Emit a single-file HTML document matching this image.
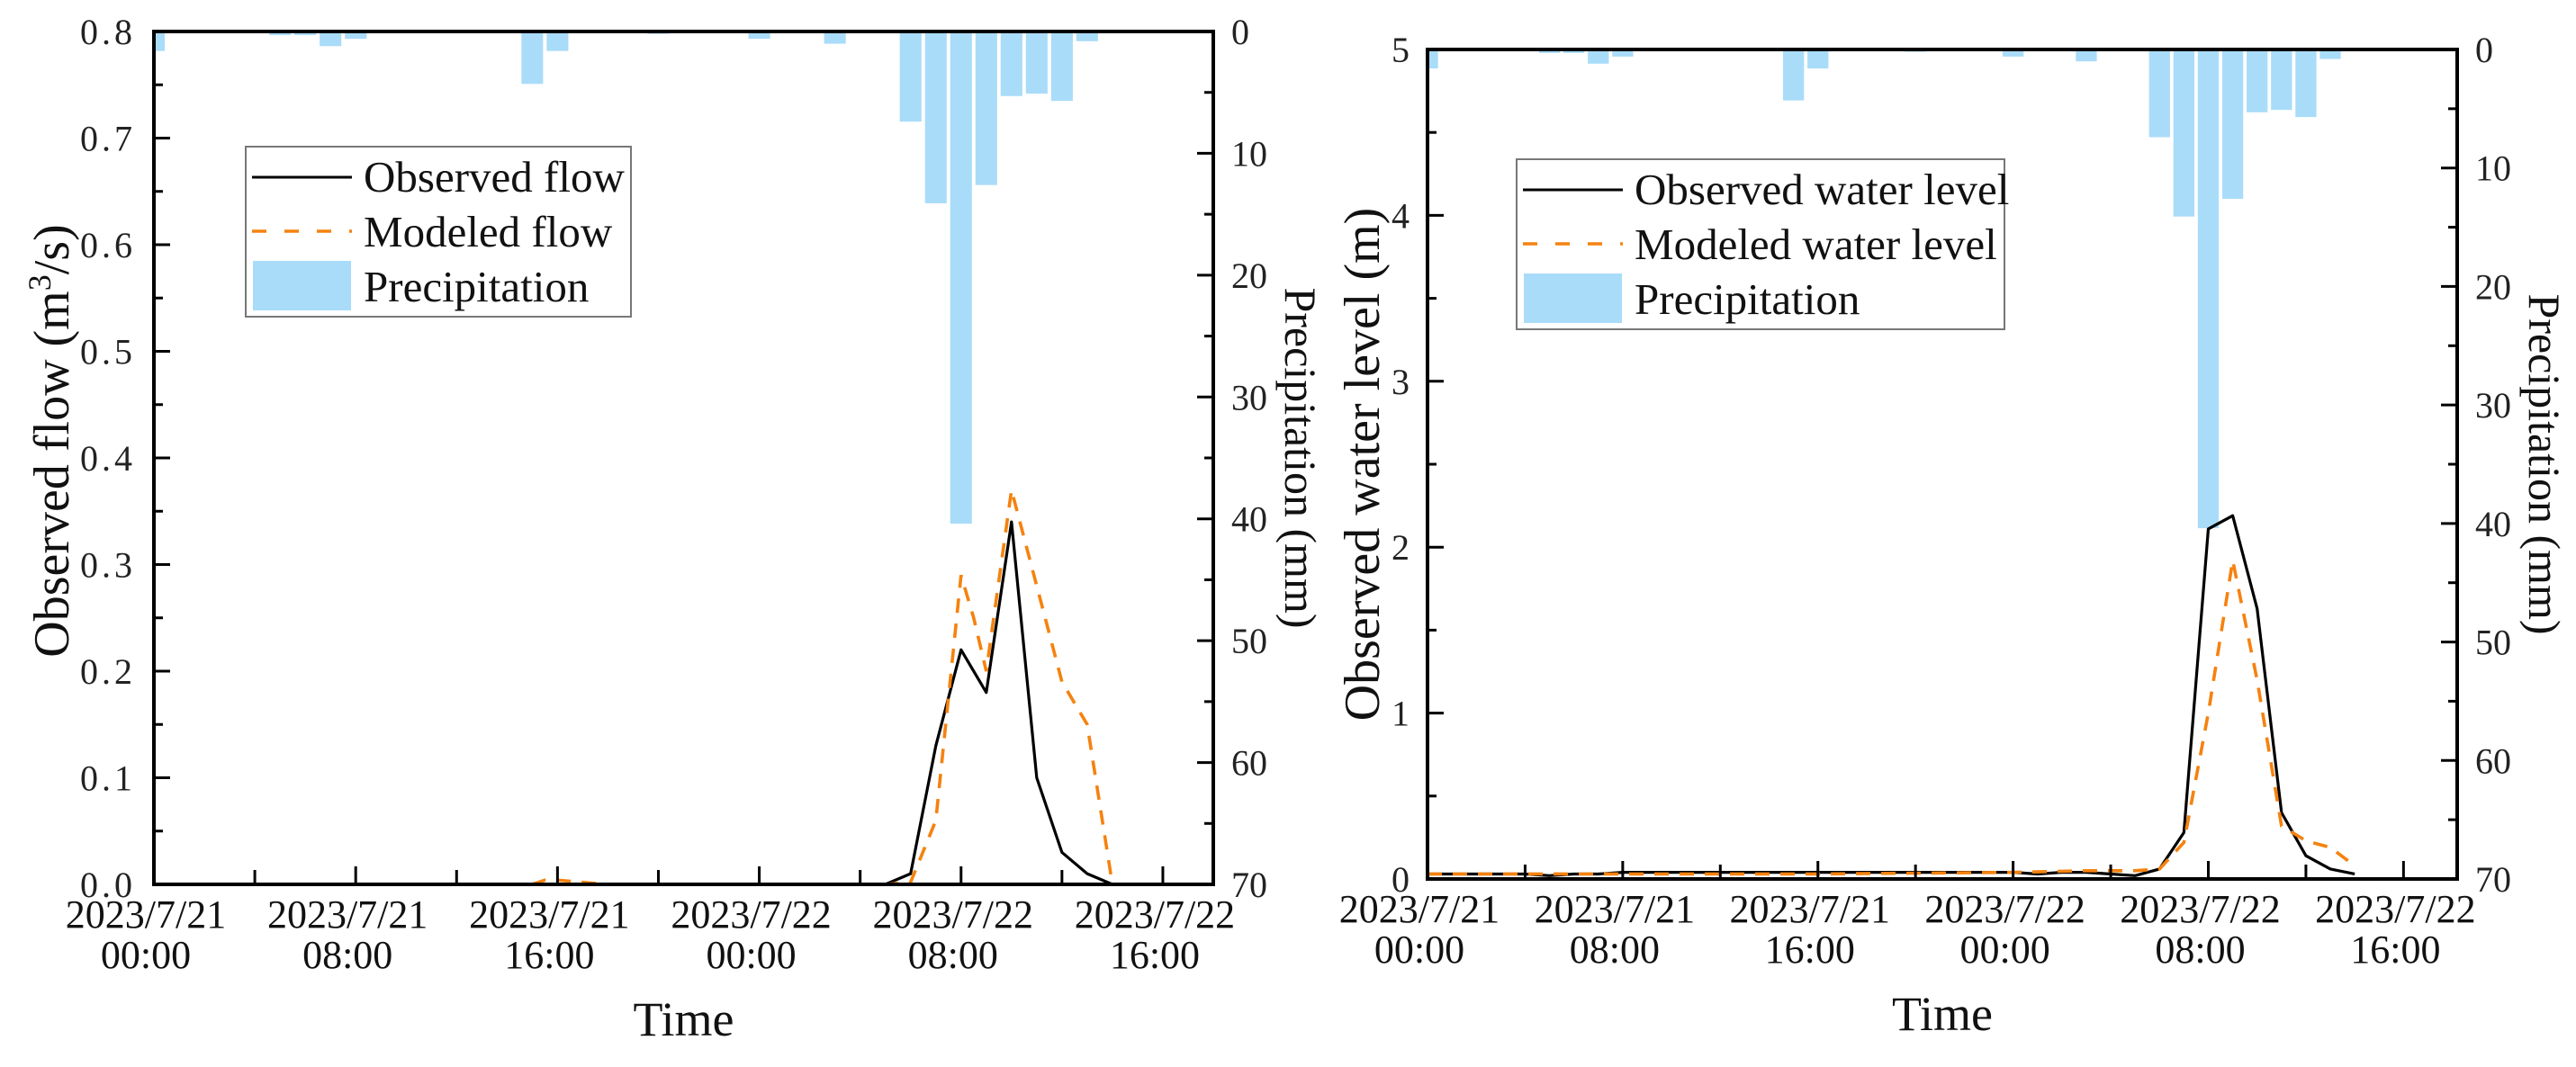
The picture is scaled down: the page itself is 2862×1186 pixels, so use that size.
<!DOCTYPE html>
<html><head><meta charset="utf-8"><style>
html,body{margin:0;padding:0;background:#fff;}
svg{display:block;font-family:"Liberation Serif",serif;}
</style></head><body>
<svg id="fig" width="2862" height="1186" viewBox="0 0 2862 1186" xmlns="http://www.w3.org/2000/svg"></svg>
<script>
// ---- shared data ----
const precipHours = [0,5,6,7,8,15,16,20,24,27,30,31,32,33,34,35,36,37];
const precipMm    = [1.6,0.3,0.3,1.2,0.6,4.3,1.6,0.2,0.6,1.0,7.4,14.1,40.4,12.6,5.3,5.1,5.7,0.8];
const xTickLabels1 = ["2023/7/21","2023/7/21","2023/7/21","2023/7/22","2023/7/22","2023/7/22"];
const xTickLabels2 = ["00:00","08:00","16:00","00:00","08:00","16:00"];
const precipTicks = [0,10,20,30,40,50,60,70];
// ---- left chart ----
const flowHours = [0,4,8,12,16,20,24,28,29,30,31,32,33,34,35,36,37,38];
const flowObs   = [0,0,0,0,0,0,0,0,0,0.01,0.13,0.22,0.18,0.34,0.10,0.03,0.01,0];
const flowModHours = [0,15,15.5,16,17,18,24,27,28,29,30,31,32,32.5,33,34,35,36,37,38];
const flowMod   = [0,0,0.004,0.004,0.002,0,0,0,0,0,0.002,0.06,0.29,0.25,0.20,0.37,0.28,0.19,0.15,0.0];
const flowTicks = ["0.0","0.1","0.2","0.3","0.4","0.5","0.6","0.7","0.8"];
// ---- right chart ----
const levelHours = [0,4,5,6,7,8,12,16,20,24,25,26,27,28,29,30,31,32,33,34,35,36,37,38];
const levelObs   = [0.03,0.03,0.02,0.03,0.03,0.04,0.04,0.04,0.04,0.04,0.03,0.04,0.04,0.03,0.02,0.06,0.28,2.11,2.19,1.63,0.40,0.14,0.06,0.03];
const levelModHours = [0,8,16,24,27,28,29,30,31,32,33,34,35,36,37,38];
const levelMod   = [0.03,0.03,0.03,0.04,0.05,0.05,0.05,0.06,0.22,1.0,1.92,1.2,0.32,0.23,0.19,0.08];
const levelTicks = ["0","1","2","3","4","5"];

const NS="http://www.w3.org/2000/svg";
const svg=document.getElementById('fig');
function el(tag,attrs,parent){const e=document.createElementNS(NS,tag);for(const k in attrs)e.setAttribute(k,attrs[k]);(parent||svg).appendChild(e);return e;}

function drawChart(c){
  const g=el('g',{});
  
  
  const xs=h=>c.L+(h/c.hMax)*(c.R-c.L);
  const ys=v=>c.B-(v/c.yMax)*(c.B-c.T);
  const ps=mm=>c.T+(mm/70)*(c.B-c.T);
  const cid='clip'+c.name;
  const cp=el('clipPath',{id:cid},g);el('rect',{x:c.L,y:c.T,width:c.R-c.L,height:c.B-c.T},cp);
  const pg=el('g',{'clip-path':'url(#'+cid+')'},g);
  const bw=(c.R-c.L)/c.hMax*0.86;
  for(let i=0;i<precipHours.length;i++){
    const r=el('rect',{x:xs(precipHours[i])-bw/2,y:c.T,width:bw,height:ps(precipMm[i])-c.T,fill:'#a9dcf9'},pg);
    
    
  }
  const obs=el('polyline',{points:c.obsH.map((h,i)=>xs(h)+','+ys(c.obs[i])).join(' '),fill:'none',stroke:'#000','stroke-width':3.2,'stroke-linejoin':'round'},pg);
  
  
  const mod=el('polyline',{points:c.modH.map((h,i)=>xs(h)+','+ys(c.mod[i])).join(' '),fill:'none',stroke:'#f5820f','stroke-width':3.6,'stroke-dasharray':'16 12'},pg);
  
  
  const fr=el('rect',{x:c.L,y:c.T,width:c.R-c.L,height:c.B-c.T,fill:'none',stroke:'#000','stroke-width':4},g);
  
  
  for(let h=0;h<=c.hMax;h+=4){
    const major=h%8===0;
    el('line',{x1:xs(h),x2:xs(h),y1:c.B,y2:c.B-(major?20:16),stroke:'#000','stroke-width':3},g);
  }
  for(let k=0;k<6;k++){
    const x=xs(k*8)-9;
    const t=el('text',{x:x,y:c.B+48,'font-size':44,'text-anchor':'middle',fill:'#111'},g);
    t.textContent=xTickLabels1[k];
    
    
    const t2=el('text',{x:x,y:c.B+93,'font-size':44,'text-anchor':'middle',fill:'#111'},g);
    t2.textContent=xTickLabels2[k];
    
    
  }
  const n=c.yTicks.length-1;
  for(let i=0;i<=n;i++){
    const v=c.yMax*i/n;
    el('line',{x1:c.L,x2:c.L+18,y1:ys(v),y2:ys(v),stroke:'#000','stroke-width':3},g);
    if(i<n){const vm=c.yMax*(i+0.5)/n;el('line',{x1:c.L,x2:c.L+10,y1:ys(vm),y2:ys(vm),stroke:'#000','stroke-width':3},g);}
    const t=el('text',{x:c.L-20,y:ys(v)+14,'font-size':40,'text-anchor':'end',fill:'#222','letter-spacing':c.ls},g);
    t.textContent=c.yTicks[i];
    
    
  }
  for(let i=0;i<precipTicks.length;i++){
    const v=precipTicks[i];
    el('line',{x1:c.R,x2:c.R-18,y1:ps(v),y2:ps(v),stroke:'#000','stroke-width':3},g);
    if(i<precipTicks.length-1)el('line',{x1:c.R,x2:c.R-10,y1:ps(v+5),y2:ps(v+5),stroke:'#000','stroke-width':3},g);
    const t=el('text',{x:c.R+20,y:ps(v)+14,'font-size':40,'text-anchor':'start',fill:'#222'},g);
    t.textContent=v;
    
    
  }
  const xt=el('text',{x:(c.L+c.R)/2,y:c.B+168,'font-size':54,'text-anchor':'middle',fill:'#111'},g);
  xt.textContent='Time';
  
  
  const yt=el('text',{x:0,y:0,'font-size':56,'text-anchor':'middle',fill:'#111',transform:'translate('+c.ytX+','+c.ytY+') rotate(-90)'},g);
  yt.innerHTML=c.yTitle;
  
  
  const pt=el('text',{x:0,y:0,'font-size':50,'text-anchor':'middle',fill:'#111',transform:'translate('+(c.R+80)+','+((c.T+c.B)/2)+') rotate(90)'},g);
  pt.textContent='Precipitation (mm)';
  
  
  const lg=el('g',{},g);
  
  
  el('rect',{x:c.lx,y:c.ly,width:c.lw,height:189,fill:'#fff',stroke:'#777','stroke-width':2},lg);
  el('line',{x1:c.lx+7,x2:c.lx+118,y1:c.ly+34,y2:c.ly+34,stroke:'#000','stroke-width':3},lg);
  el('line',{x1:c.lx+7,x2:c.lx+118,y1:c.ly+94,y2:c.ly+94,stroke:'#f5820f','stroke-width':3.4,'stroke-dasharray':'16 20'},lg);
  el('rect',{x:c.lx+8,y:c.ly+127,width:109,height:55,fill:'#a9dcf9'},lg);
  const labels=[c.obsLabel,c.modLabel,'Precipitation'];
  for(let i=0;i<3;i++){
    const t=el('text',{x:c.lx+131,y:c.ly+50+i*61,'font-size':49,fill:'#111'},lg);
    t.textContent=labels[i];
    
    
  }
}

drawChart({name:'flow-chart',L:171,R:1348,T:35,B:983,hMax:42,yMax:0.8,yTicks:flowTicks,ls:4,
  obsH:flowHours,obs:flowObs,modH:flowModHours,mod:flowMod,
  yTitle:'Observed flow (m<tspan dy="-20" font-size="36">3</tspan><tspan dy="20">/s)</tspan>',ytX:76,ytY:490,
  lx:273,ly:163,lw:428,obsLabel:'Observed flow',modLabel:'Modeled flow'});
drawChart({name:'level-chart',L:1586,R:2730,T:55,B:977,hMax:42.2,yMax:5,yTicks:levelTicks,ls:0,
  obsH:levelHours,obs:levelObs,modH:levelModHours,mod:levelMod,
  yTitle:'Observed water level (m)',ytX:1532,ytY:516,
  lx:1685,ly:177,lw:542,obsLabel:'Observed water level',modLabel:'Modeled water level'});
</script>
</body></html>
